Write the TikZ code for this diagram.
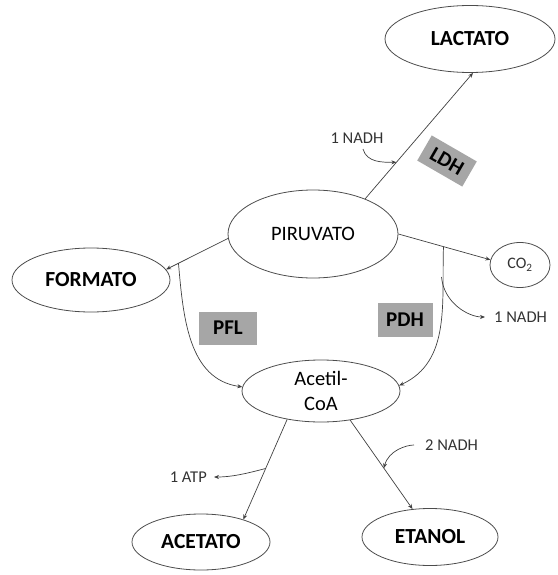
\documentclass[tikz,border=0pt]{standalone}
\usepackage{fontspec}
\setmainfont{Carlito}
\usetikzlibrary{shapes.geometric,arrows.meta}
\begin{document}
\begin{tikzpicture}[x=1pt,y=-1pt,
 ell/.style={ellipse,draw=black!70,line width=0.8pt,inner sep=0pt},
 big/.style={font=\fontsize{21.5}{23}\selectfont\bfseries},
 reg/.style={font=\fontsize{20.5}{25}\selectfont},
 enz/.style={fill=black!35,minimum width=56pt,minimum height=33pt,font=\fontsize{21}{21}\selectfont\bfseries,inner sep=0pt},
 lab/.style={font=\fontsize{16.5}{17}\selectfont,text=black!80,inner sep=0pt},
 arr/.style={draw=black!75,line width=0.7pt,-{Stealth[length=5pt,width=4pt]}},
 ln/.style={draw=black!75,line width=0.7pt}]
\useasboundingbox (0,0) rectangle (557,575);
% nodes
\node[ell,big,minimum width=170pt,minimum height=67pt] (lact) at (470,39) {LACTATO};
\node[ell,reg,minimum width=170pt,minimum height=88pt] (piru) at (313,234) {PIRUVATO};
\node[ell,big,minimum width=158pt,minimum height=64pt] (form) at (91,280) {FORMATO};
\node[ell,minimum width=60pt,minimum height=45pt,font=\fontsize{16}{16}\selectfont,text=black!80] (co2) at (520,265) {CO\textsubscript{2}};
\node[ell,reg,minimum width=158pt,minimum height=62pt,align=center] (acet) at (321,391) {Acetil-\\CoA};
\node[ell,big,minimum width=138pt,minimum height=56pt] (acetato) at (201,542) {ACETATO};
\node[ell,big,minimum width=136pt,minimum height=57pt] (etanol) at (430,537) {ETANOL};
% enzyme boxes
\node[enz,minimum width=52pt,minimum height=29pt,rotate=-30] (ldh) at (447,161) {LDH};
\node[enz,minimum width=58pt] (pfl) at (228,328) {PFL};
\node[enz,minimum width=55pt,minimum height=34pt] (pdh) at (405,320) {PDH};
% labels
\node[lab] (nadhA) at (357,138) {1 NADH};
\node[lab,anchor=west] (nadhB) at (494,317) {1 NADH};
\node[lab,anchor=east] (atp) at (207,477) {1 ATP};
\node[lab,anchor=west] (nadhC) at (425,445) {2 NADH};
% connectors
\draw[arr] (piru.34) -- coordinate[pos=0.29] (ldhb) (lact.-85);
\coordinate (nadhAs) at (363,149);
\draw[arr] (nadhAs) to[out=-75,in=180] (ldhb);
\draw[arr] (piru.183) -- coordinate[pos=0.8] (pflb) (form.8);
\draw[arr] (pflb) to[out=-85,in=172] (acet.177);
\draw[arr] (piru.east) -- coordinate[pos=0.49] (pdhb) (co2.170);
\draw[arr] (pdhb) to[out=-92,in=25] (acet.4);
\coordinate (nadhBb) at (441.5,277);
\draw[arr,shorten >=9pt] (nadhBb) to[out=-85,in=180] (nadhB.west);
\draw[arr] (acet.-140) -- coordinate[pos=0.49] (atpb) (acetato.28);
\draw[arr,shorten >=7pt] (atpb) to[out=195,in=0] (atp.east);
\draw[arr] (acet.-45) -- coordinate[pos=0.54] (etb) (etanol.122);
\draw[arr,shorten <=11pt] (nadhC.west) to[out=180,in=75] (etb);
\end{tikzpicture}
\end{document}
